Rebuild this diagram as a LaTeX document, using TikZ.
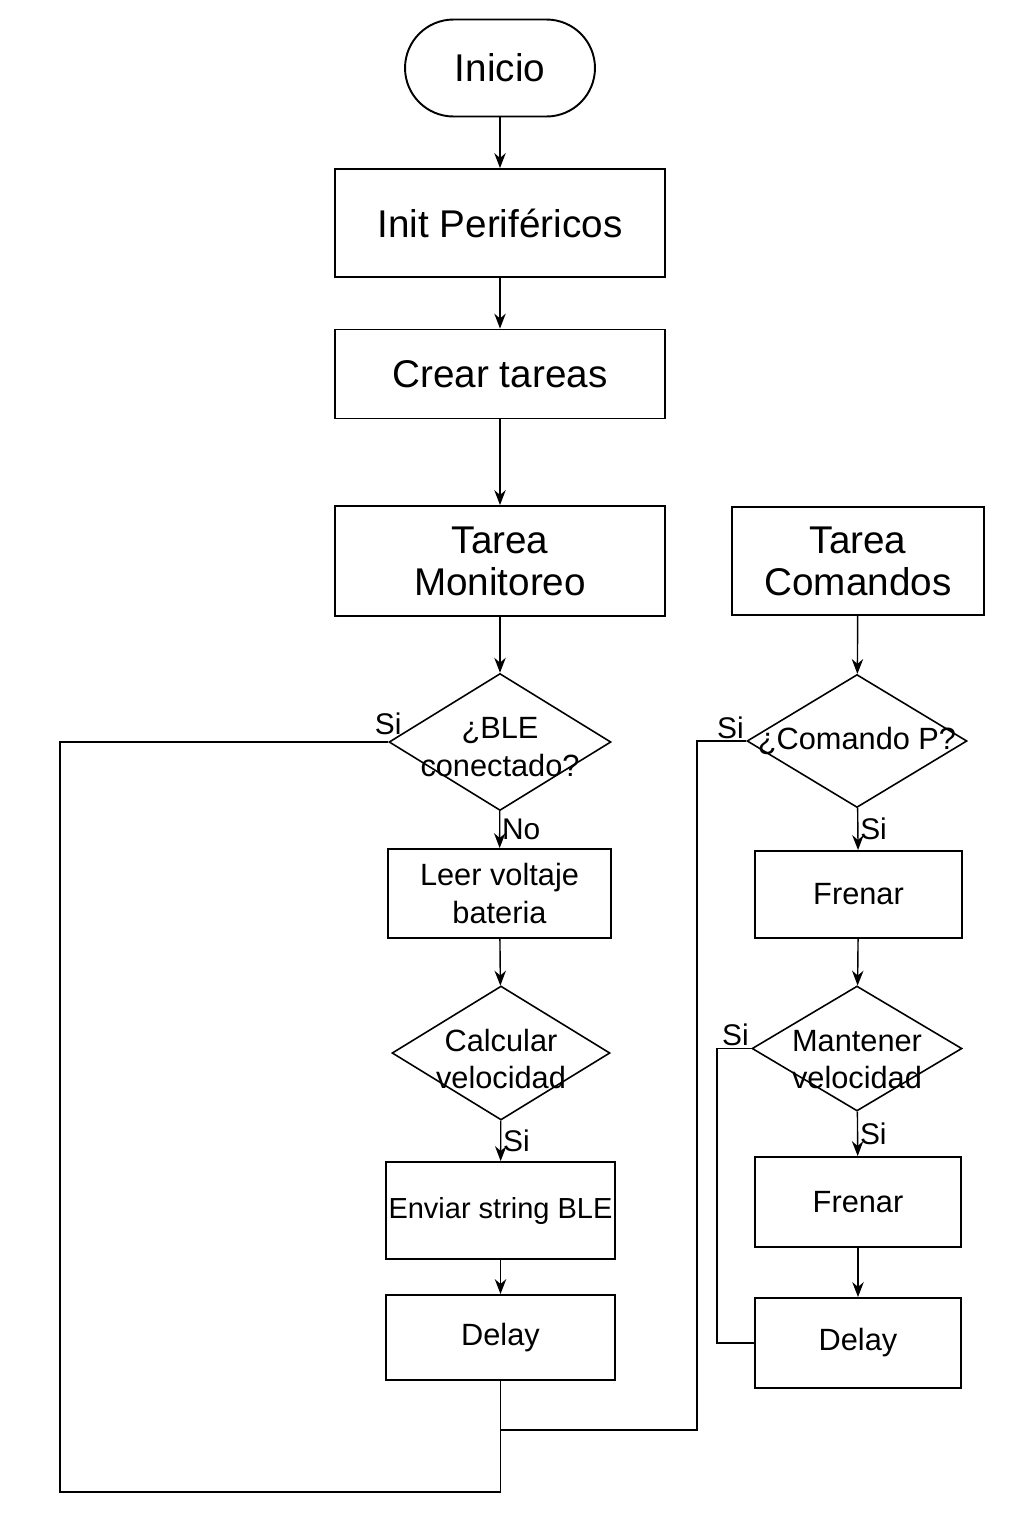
\documentclass[tikz,border=0pt]{standalone}
\usepackage{fontspec}
\setmainfont{Liberation Sans}
\usetikzlibrary{arrows.meta,positioning,shapes.geometric}

\begin{document}
\begin{tikzpicture}[x=0.02cm,y=-0.02cm,
    box/.style={draw,line width=1.1pt,align=center,inner sep=0pt},
    cond/.style={diamond,draw,line width=0.9pt,inner sep=0pt},
    flow/.style={-{Stealth[length=8.5pt,width=6.5pt]},line width=0.8pt},
    loopline/.style={line width=0.8pt},
    bigtxt/.style={font=\fontsize{22}{24}\selectfont},
    midtxt/.style={font=\fontsize{17.5}{21.5}\selectfont},
    tag/.style={font=\fontsize{17}{20}\selectfont,inner sep=1pt}]
  \useasboundingbox (0,0) rectangle (1024,1536);

  % Main column
  \node[box,bigtxt,rounded corners=0.97cm,minimum width=3.8cm,minimum height=1.94cm] (start) at (500,68) {Inicio};
  \node[box,bigtxt,minimum width=6.6cm,minimum height=2.16cm] (init) at (500,223) {Init Periféricos};
  \node[box,bigtxt,minimum width=6.6cm,minimum height=1.78cm] (tasks) at (500,374) {Crear tareas};
  \node[box,bigtxt,minimum width=6.6cm,minimum height=2.2cm] (tmon) at (500,561) {Tarea\\Monitoreo};

  % Monitoring task
  \node[cond,minimum width=4.44cm,minimum height=2.74cm,
    label={[midtxt,align=center,yshift=-0.1cm]center:{¿BLE\\conectado?}}] (ble) at (500,742) {};
  \node[box,midtxt,minimum width=4.46cm,minimum height=1.78cm] (volt) at (499.5,893.5) {Leer voltaje\\bateria};
  \node[cond,minimum width=4.36cm,minimum height=2.68cm,
    label={[midtxt,align=center,yshift=-0.12cm]center:{Calcular\\velocidad}}] (speed) at (501,1053) {};
  \node[box,font=\fontsize{16.5}{20}\selectfont,minimum width=4.58cm,minimum height=1.94cm] (send) at (500.5,1210.5) {Enviar string BLE};
  \node[box,midtxt,minimum width=4.58cm,minimum height=1.7cm] (waitA) at (500.5,1337.5) {Delay};

  % Command task
  \node[box,bigtxt,minimum width=5.04cm,minimum height=2.16cm] (tcmd) at (858,561) {Tarea\\Comandos};
  \node[cond,minimum width=4.4cm,minimum height=2.66cm,
    label={[midtxt]center:{¿Comando P?}}] (cmd) at (857,741) {};
  \node[box,midtxt,minimum width=4.14cm,minimum height=1.74cm] (brakeA) at (858.5,894.5) {Frenar};
  \node[cond,minimum width=4.2cm,minimum height=2.5cm,
    label={[midtxt,align=center,yshift=-0.22cm]center:{Mantener\\velocidad}}] (hold) at (857,1048.5) {};
  \node[box,midtxt,minimum width=4.12cm,minimum height=1.8cm] (brakeB) at (858,1202) {Frenar};
  \node[box,midtxt,minimum width=4.12cm,minimum height=1.8cm] (waitB) at (858,1343) {Delay};

  % Bend points of the loops
  \coordinate (lbot) at (60,1492);
  \coordinate (join) at (500,1430);
  \coordinate (rbend) at (697,1430);
  \coordinate (hbend) at (717,1343);

  % Arrows
  \draw[flow] (start) -- (init);
  \draw[flow] (init) -- (tasks);
  \draw[flow] (tasks) -- (tmon);
  \draw[flow] (tmon) -- (ble);
  \draw[flow] (ble) -- node[tag,right]{No} (volt);
  \draw[flow] (volt) -- (speed);
  \draw[flow] (speed) -- node[tag,right]{Si} (send);
  \draw[flow] (send) -- (waitA);
  \draw[flow] (tcmd) -- (cmd);
  \draw[flow] (cmd) -- node[tag,right]{Si} (brakeA);
  \draw[flow] (brakeA) -- (hold);
  \draw[flow] (hold) -- node[tag,right]{Si} (brakeB);
  \draw[flow] (brakeB) -- (waitB);

  % Loops back
  \draw[loopline] (ble.west) node[tag,above,yshift=0.1cm]{Si} -| (lbot) -| (waitA.south);
  \draw[loopline] (join) -- (rbend) |- (cmd.west) node[tag,above left]{Si};
  \draw[loopline] (hold.west) node[tag,above left]{Si} -| (hbend) -- (waitB.west);
\end{tikzpicture}
\end{document}
